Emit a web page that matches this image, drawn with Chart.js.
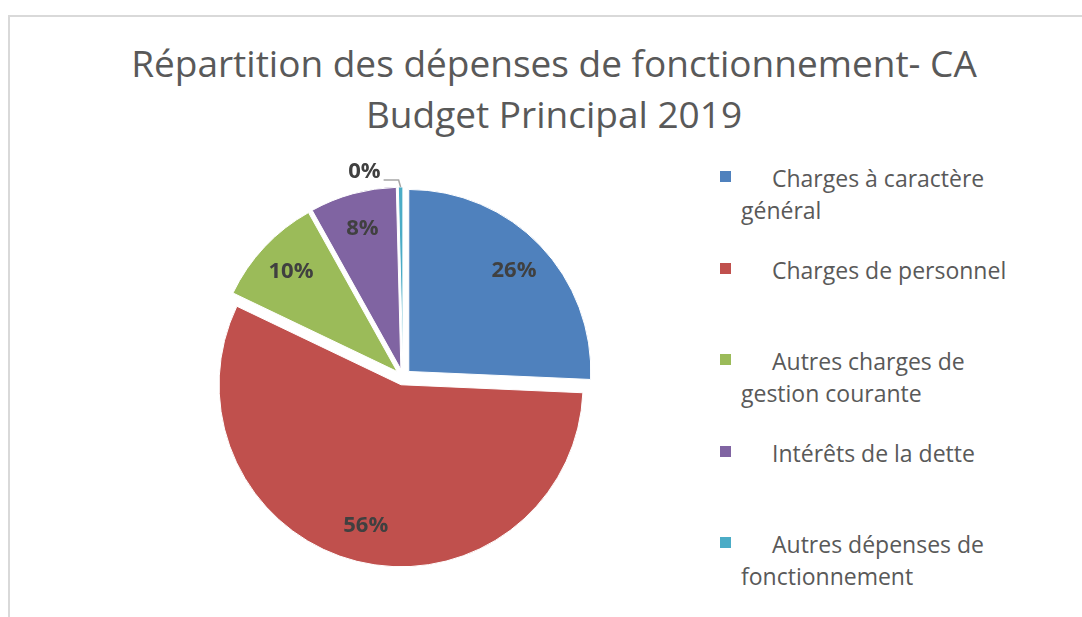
<!DOCTYPE html>
<html lang="fr">
<head>
    <meta charset="UTF-8">
    <title>Répartition des dépenses de fonctionnement</title>
    <script src="https://cdn.jsdelivr.net/npm/chart.js"></script>
    <style>
        body {
            margin: 0;
            width: 1082px;
            height: 617px;
            overflow: hidden;
            background: #ffffff;
            font-family: 'Open Sans', sans-serif;
            position: relative;
        }
        .frame {
            position: absolute;
            left: 8px;
            top: 15px;
            width: 1100px;
            height: 640px;
            border: 2px solid #d9d9d9;
            box-sizing: border-box;
        }
        .title {
            position: absolute;
            left: 8px;
            width: 1092px;
            top: 37px;
            text-align: center;
            font-size: 37px;
            line-height: 51px;
            color: #595959;
        }
        #pie {
            position: absolute;
            left: 153px;
            top: 127px;
        }
        .item {
            position: absolute;
            left: 741px;
            font-size: 23px;
            line-height: 32px;
            color: #595959;
            text-indent: 31px;
            white-space: nowrap;
        }
        .item .sw {
            position: absolute;
            left: -21px;
            top: 9px;
            width: 11px;
            height: 11px;
        }
    </style>
</head>
<body>
    <div class="frame"></div>
    <div class="title">Répartition des dépenses de fonctionnement- CA<br>Budget Principal 2019</div>
    <canvas id="pie" width="500" height="500"></canvas>
    <div id="legend"></div>

    <script>
        const labels = [
            ["Charges à caractère", "général"],
            ["Charges de personnel"],
            ["Autres charges de", "gestion courante"],
            ["Intérêts de la dette"],
            ["Autres dépenses de", "fonctionnement"]
        ];
        const shares = [25.7, 56.4, 9.8, 7.7, 0.4];
        const colors = ["#4F81BD", "#C0504D", "#9BBB59", "#8064A2", "#4BACC6"];

        const explode = 8;

        // push every slice outward along its middle angle
        const explodePlugin = {
            id: "explode",
            afterDatasetsUpdate(chart) {
                chart.getDatasetMeta(0).data.forEach(arc => {
                    const mid = (arc.startAngle + arc.endAngle) / 2;
                    arc.x += Math.cos(mid) * explode;
                    arc.y += Math.sin(mid) * explode;
                });
            }
        };

        const labelPlugin = {
            id: "pctLabels",
            afterDatasetsDraw(chart) {
                const ctx = chart.ctx;
                const values = chart.data.datasets[0].data;
                const total = values.reduce((a, b) => a + b, 0);
                ctx.save();
                ctx.font = "bold 22px 'Open Sans', sans-serif";
                ctx.fillStyle = "#404040";
                ctx.textBaseline = "middle";
                chart.getDatasetMeta(0).data.forEach((arc, i) => {
                    const mid = (arc.startAngle + arc.endAngle) / 2;
                    const r = arc.outerRadius;
                    const text = Math.round(values[i] / total * 100) + "%";
                    if (values[i] / total >= 0.01) {
                        ctx.textAlign = "center";
                        ctx.fillText(text, arc.x + Math.cos(mid) * r * 0.8, arc.y + Math.sin(mid) * r * 0.8);
                    } else {
                        const ex = arc.x + Math.cos(mid) * r;
                        const ey = arc.y + Math.sin(mid) * r;
                        const kx = ex - 2, ky = ey - 7;
                        ctx.strokeStyle = "#a6a6a6";
                        ctx.lineWidth = 1.5;
                        ctx.beginPath();
                        ctx.moveTo(ex, ey);
                        ctx.lineTo(kx, ky);
                        ctx.lineTo(kx - 15, ky);
                        ctx.stroke();
                        ctx.textAlign = "right";
                        ctx.fillText(text, kx - 18, ky - 8);
                    }
                });
                ctx.restore();
            }
        };

        new Chart(document.getElementById("pie"), {
            type: "pie",
            data: {
                labels: labels,
                datasets: [{
                    data: shares,
                    backgroundColor: colors,
                    borderColor: "#ffffff",
                    borderWidth: 1
                }]
            },
            options: {
                responsive: false,
                animation: false,
                events: [],
                radius: 182,
                plugins: {
                    legend: { display: false },
                    tooltip: { enabled: false }
                }
            },
            plugins: [explodePlugin, labelPlugin]
        });

        // legend built from the same arrays
        const legend = document.getElementById("legend");
        labels.forEach((lines, i) => {
            const item = document.createElement("div");
            item.className = "item";
            item.style.top = (162 + i * 91.5) + "px";
            const sw = document.createElement("span");
            sw.className = "sw";
            sw.style.background = colors[i];
            item.appendChild(sw);
            item.appendChild(document.createTextNode(lines[0]));
            for (let k = 1; k < lines.length; k++) {
                item.appendChild(document.createElement("br"));
                item.appendChild(document.createTextNode(lines[k]));
            }
            legend.appendChild(item);
        });
    </script>
</body>
</html>
